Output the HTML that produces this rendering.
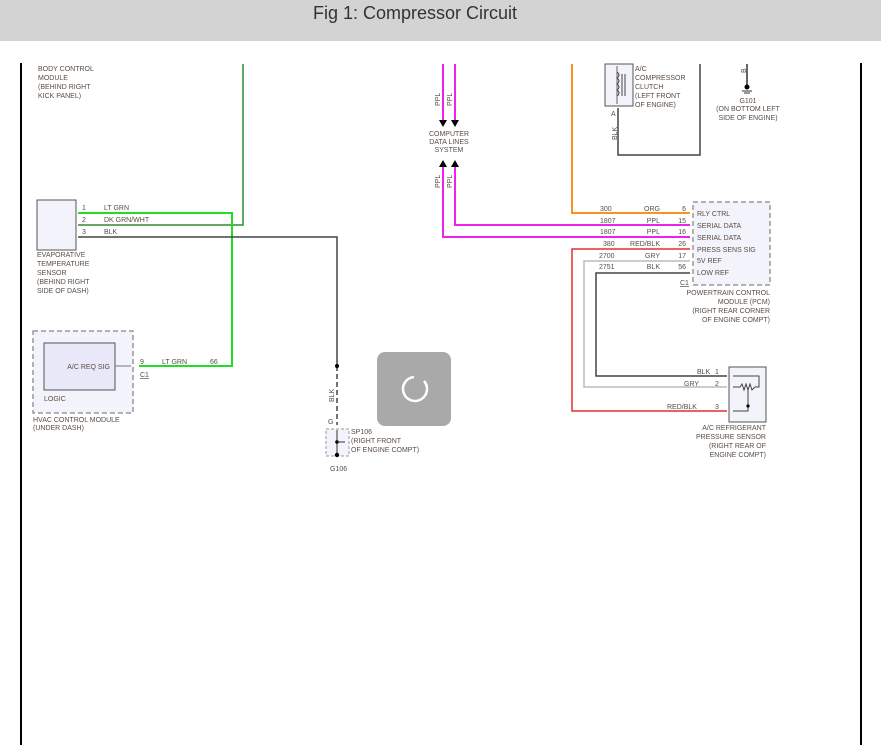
<!DOCTYPE html>
<html><head><meta charset="utf-8"><style>
html,body{margin:0;padding:0;background:#fff;width:881px;height:745px;overflow:hidden}
.hd{position:absolute;left:0;top:0;width:881px;height:41px;background:#d3d3d3}
.hd span{position:absolute;left:0;width:830px;top:0;text-align:center;font:18px "Liberation Sans",sans-serif;line-height:26px;color:#333}
svg{position:absolute;left:0;top:0}
text{font-family:"Liberation Sans",sans-serif;font-size:7px;fill:#5a4d44}
</style></head><body>
<div class="hd"><span>Fig 1: Compressor Circuit</span></div>
<svg width="881" height="745" viewBox="0 0 881 745">
<line x1="21" y1="63" x2="21" y2="745" stroke="#000" stroke-width="2"/>
<line x1="861" y1="63" x2="861" y2="745" stroke="#000" stroke-width="2"/>
<!-- BCM -->
<text x="38" y="71">BODY CONTROL</text><text x="38" y="80">MODULE</text><text x="38" y="89">(BEHIND RIGHT</text><text x="38" y="98">KICK PANEL)</text>
<polyline points="243,64 243,225 78,225" fill="none" stroke="#2e8b2e" stroke-width="1.5"/>
<polyline points="78,213 232,213 232,366 139,366" fill="none" stroke="#22dd22" stroke-width="2"/>
<polyline points="78,237 337,237 337,366" fill="none" stroke="#444" stroke-width="1.5"/>
<line x1="337" y1="366" x2="337" y2="425" stroke="#444" stroke-width="1.5" stroke-dasharray="5,3"/>
<circle cx="337" cy="366" r="2" fill="#000"/>
<!-- evap sensor -->
<rect x="37" y="200" width="39" height="50" fill="#f3f3fb" stroke="#555"/>
<text x="82" y="210">1</text><text x="104" y="210">LT GRN</text>
<text x="82" y="222">2</text><text x="104" y="222">DK GRN/WHT</text>
<text x="82" y="234">3</text><text x="104" y="234">BLK</text>
<text x="37" y="257">EVAPORATIVE</text><text x="37" y="266">TEMPERATURE</text><text x="37" y="275">SENSOR</text><text x="37" y="284">(BEHIND RIGHT</text><text x="37" y="293">SIDE OF DASH)</text>
<!-- HVAC -->
<rect x="33" y="331" width="100" height="82" fill="#f3f3fb" stroke="#999" stroke-width="1.5" stroke-dasharray="5,3"/>
<rect x="44" y="343" width="71" height="47" fill="#e8e8f8" stroke="#555"/>
<text x="110" y="369" text-anchor="end">A/C REQ SIG</text>
<line x1="115" y1="366" x2="131" y2="366" stroke="#777"/>
<text x="44" y="401">LOGIC</text>
<text x="33" y="422">HVAC CONTROL MODULE</text><text x="33" y="430">(UNDER DASH)</text>
<text x="140" y="364">9</text><text x="162" y="364">LT GRN</text><text x="210" y="364">66</text>
<text x="140" y="377" text-decoration="underline">C1</text>
<!-- SP106 -->
<text x="328" y="424">G</text>
<rect x="326" y="429" width="23" height="27" fill="#f3f3fb" stroke="#999" stroke-dasharray="3,2"/>
<line x1="337" y1="430" x2="337" y2="456" stroke="#333"/>
<circle cx="337" cy="442" r="1.8" fill="#000"/><circle cx="337" cy="455" r="2.2" fill="#000"/>
<line x1="337" y1="442" x2="345" y2="442" stroke="#333"/>
<text x="351" y="434">SP106</text><text x="351" y="443">(RIGHT FRONT</text><text x="351" y="452">OF ENGINE COMPT)</text>
<text x="330" y="471">G106</text>
<text transform="translate(334,402) rotate(-90)">BLK</text>
<!-- spinner -->
<rect x="377" y="352" width="74" height="74" rx="8" fill="#a9a9a9"/>
<path d="M424 381 A12 12 0 1 1 414 377" fill="none" stroke="#fff" stroke-width="2.5"/>
<!-- data lines -->
<line x1="443" y1="64" x2="443" y2="120" stroke="#ee22ee" stroke-width="2"/>
<line x1="455" y1="64" x2="455" y2="120" stroke="#ee22ee" stroke-width="2"/>
<polygon points="439,120 447,120 443,127" fill="#000"/><polygon points="451,120 459,120 455,127" fill="#000"/>
<text transform="translate(440,106) rotate(-90)">PPL</text><text transform="translate(452,106) rotate(-90)">PPL</text>
<text x="449" y="136" text-anchor="middle">COMPUTER</text><text x="449" y="144" text-anchor="middle">DATA LINES</text><text x="449" y="152" text-anchor="middle">SYSTEM</text>
<polygon points="439,167 447,167 443,160" fill="#000"/><polygon points="451,167 459,167 455,160" fill="#000"/>
<text transform="translate(440,188) rotate(-90)">PPL</text><text transform="translate(452,188) rotate(-90)">PPL</text>
<polyline points="443,167 443,237 690,237" fill="none" stroke="#ee22ee" stroke-width="2"/>
<polyline points="455,167 455,225 690,225" fill="none" stroke="#ee22ee" stroke-width="2"/>
<polyline points="572,64 572,213 690,213" fill="none" stroke="#f7931e" stroke-width="2"/>
<polyline points="690,249 572,249 572,411 727,411" fill="none" stroke="#e03030" stroke-width="1.5"/>
<polyline points="690,261 584,261 584,387 727,387" fill="none" stroke="#bbb" stroke-width="1.5"/>
<polyline points="690,273 596,273 596,376 727,376" fill="none" stroke="#444" stroke-width="1.5"/>
<!-- PCM -->
<rect x="693" y="202" width="77" height="83" fill="#f3f3fb" stroke="#999" stroke-width="1.5" stroke-dasharray="5,3"/>
<g>
<text x="600" y="211">300</text><text x="660" y="211" text-anchor="end">ORG</text><text x="686" y="211" text-anchor="end">6</text><text x="697" y="216">RLY CTRL</text>
<text x="600" y="223">1807</text><text x="660" y="223" text-anchor="end">PPL</text><text x="686" y="223" text-anchor="end">15</text><text x="697" y="228">SERIAL DATA</text>
<text x="600" y="234">1807</text><text x="660" y="234" text-anchor="end">PPL</text><text x="686" y="234" text-anchor="end">16</text><text x="697" y="240">SERIAL DATA</text>
<text x="603" y="246">380</text><text x="660" y="246" text-anchor="end">RED/BLK</text><text x="686" y="246" text-anchor="end">26</text><text x="697" y="252">PRESS SENS SIG</text>
<text x="599" y="258">2700</text><text x="660" y="258" text-anchor="end">GRY</text><text x="686" y="258" text-anchor="end">17</text><text x="697" y="263">5V REF</text>
<text x="599" y="269">2751</text><text x="660" y="269" text-anchor="end">BLK</text><text x="686" y="269" text-anchor="end">56</text><text x="697" y="275">LOW REF</text>
<text x="680" y="285" text-decoration="underline">C1</text>
<text x="770" y="295" text-anchor="end">POWERTRAIN CONTROL</text><text x="770" y="304" text-anchor="end">MODULE (PCM)</text><text x="770" y="313" text-anchor="end">(RIGHT REAR CORNER</text><text x="770" y="322" text-anchor="end">OF ENGINE COMPT)</text>
</g>
<!-- sensor -->
<rect x="729" y="367" width="37" height="55" fill="#f3f3fb" stroke="#555"/>
<polyline points="733,376 759,376 759,387 755,387" fill="none" stroke="#444"/>
<polyline points="733,387 740,387 742,384 744,390 746,384 748,390 750,384 752,390 755,387" fill="none" stroke="#444"/>
<polyline points="748,390 748,411 733,411" fill="none" stroke="#444"/>
<circle cx="748" cy="406" r="1.6" fill="#000"/>
<text x="697" y="374">BLK</text><text x="715" y="374">1</text>
<text x="684" y="386">GRY</text><text x="715" y="386">2</text>
<text x="667" y="409">RED/BLK</text><text x="715" y="409">3</text>
<text x="766" y="430" text-anchor="end">A/C REFRIGERANT</text><text x="766" y="439" text-anchor="end">PRESSURE SENSOR</text><text x="766" y="448" text-anchor="end">(RIGHT REAR OF</text><text x="766" y="457" text-anchor="end">ENGINE COMPT)</text>
<!-- clutch -->
<rect x="605" y="64" width="28" height="42" fill="#f3f3fb" stroke="#555"/>
<line x1="617" y1="66" x2="617" y2="104" stroke="#666"/>
<path d="M617 72 q4 3 0 6 q4 3 0 6 q4 3 0 6 q4 3 0 6" fill="none" stroke="#444"/>
<line x1="622" y1="74" x2="622" y2="96" stroke="#444"/><line x1="625" y1="74" x2="625" y2="96" stroke="#444"/>
<text x="635" y="71">A/C</text><text x="635" y="80">COMPRESSOR</text><text x="635" y="89">CLUTCH</text><text x="635" y="98">(LEFT FRONT</text><text x="635" y="107">OF ENGINE)</text>
<text x="611" y="116">A</text>
<polyline points="618,108 618,155 700,155 700,64" fill="none" stroke="#444" stroke-width="1.5"/>
<text transform="translate(617,140) rotate(-90)">BLK</text>
<!-- G101 -->
<line x1="747" y1="64" x2="747" y2="85" stroke="#333" stroke-width="1.5"/>
<text transform="translate(746,73) rotate(-90)">B</text>
<circle cx="747" cy="87" r="2.5" fill="#000"/>
<line x1="742" y1="91" x2="752" y2="91" stroke="#333"/><line x1="744" y1="93" x2="750" y2="93" stroke="#333"/>
<text x="748" y="103" text-anchor="middle">G101</text><text x="748" y="111" text-anchor="middle">(ON BOTTOM LEFT</text><text x="748" y="120" text-anchor="middle">SIDE OF ENGINE)</text>
</svg>
</body></html>
